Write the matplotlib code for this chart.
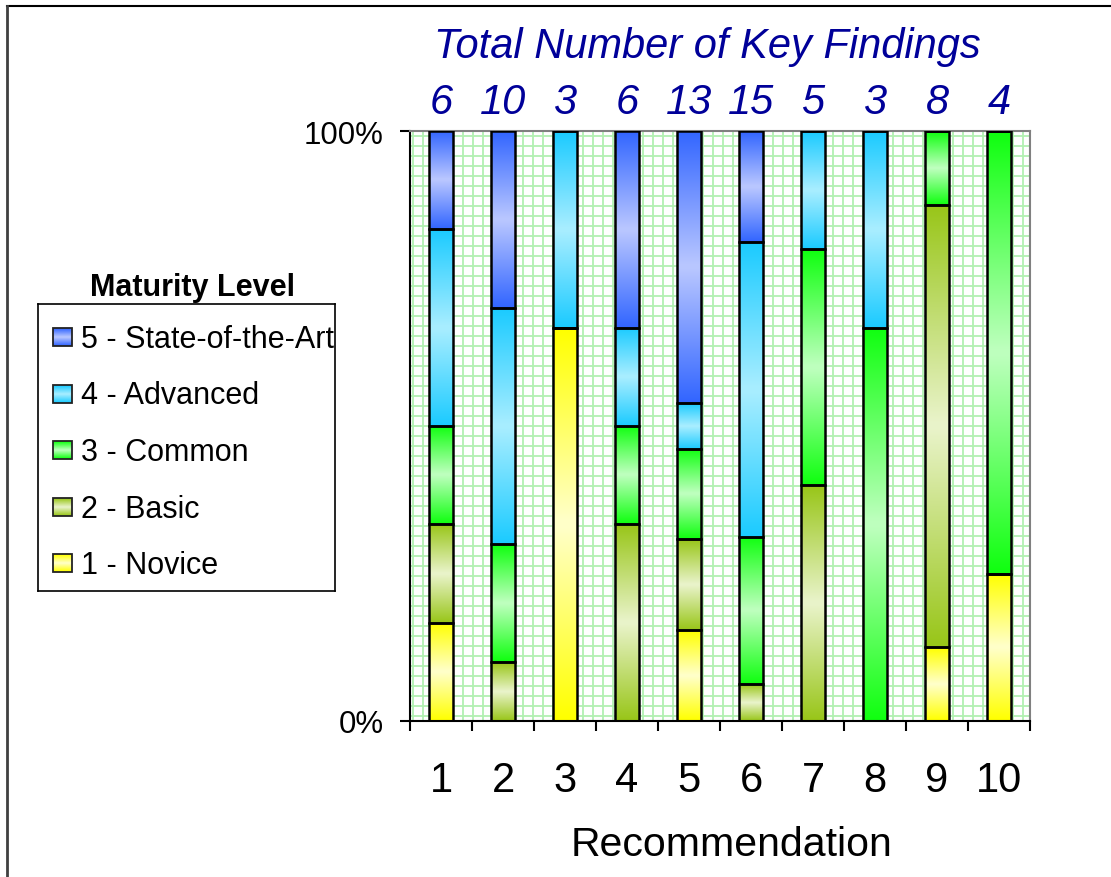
import numpy as np
import matplotlib.pyplot as plt
from matplotlib.colors import to_rgb
from matplotlib.lines import Line2D
from matplotlib.patches import Rectangle

plt.rcParams['font.family'] = ['Liberation Sans', 'DejaVu Sans']

recs = ['1', '2', '3', '4', '5', '6', '7', '8', '9', '10']
key_findings = [6, 10, 3, 6, 13, 15, 5, 3, 8, 4]

# findings per maturity level for each recommendation
novice = [1, 0, 2, 0, 2, 0, 0, 0, 1, 1]
basic = [1, 1, 0, 2, 2, 1, 2, 0, 6, 0]
common = [1, 2, 0, 1, 2, 4, 2, 2, 1, 3]
advanced = [2, 4, 1, 1, 1, 8, 1, 1, 0, 0]
state = [1, 3, 0, 2, 6, 3, 0, 0, 0, 0]

levels = ['1 - Novice', '2 - Basic', '3 - Common', '4 - Advanced', '5 - State-of-the-Art']
edge_cols = ['#ffff00', '#99c61a', '#11ff11', '#1ccbff', '#3366ff']
mid_cols = ['#ffffcc', '#eaf4cc', '#c0ffc0', '#aaeeff', '#bbc8ff']
navy = '#000099'


def shade(edge, mid, n=64):
    # reflected gradient: strong colour at the ends, pale in the middle
    t = np.abs(np.linspace(-1, 1, n))[:, None]
    e = np.array(to_rgb(edge))
    m = np.array(to_rgb(mid))
    return (m + (e - m) * t)[:, None, :]


fig = plt.figure(figsize=(11.11, 8.78), dpi=100)
ax = fig.add_axes([410 / 1111, 156 / 878, 620 / 1111, 590 / 878])

counts = np.array([novice, basic, common, advanced, state], float)
pct = counts / counts.sum(axis=0) * 100
x = np.arange(len(recs))
bottom = np.zeros(len(recs))
for k in range(len(levels)):
    bars = ax.bar(x, pct[k], 0.4, bottom=bottom, facecolor='none',
                  edgecolor='black', lw=1.8, zorder=3)
    img = shade(edge_cols[k], mid_cols[k])
    for b in bars:
        if b.get_height() <= 0:
            continue
        x0, y0 = b.get_x(), b.get_y()
        ax.imshow(img, extent=(x0, x0 + b.get_width(), y0, y0 + b.get_height()),
                  aspect='auto', interpolation='bilinear', zorder=2)
    bottom += pct[k]

ax.set_xlim(-0.5, 9.5)
ax.set_ylim(0, 100)

# small green grid pattern in the plot area
gx = -0.5 + (2.7 + 10 * np.arange(62)) / 62
gy = 100 - (4.7 + 10 * np.arange(59)) * 100 / 590
ax.vlines(gx, 0, 100, color='#b2f0b2', lw=1.3, zorder=0.5)
ax.hlines(gy, -0.5, 9.5, color='#b2f0b2', lw=1.3, zorder=0.5)

for s in ['left', 'bottom']:
    ax.spines[s].set_color('black')
    ax.spines[s].set_linewidth(1.5)
for s in ['top', 'right']:
    ax.spines[s].set_color('#808080')
    ax.spines[s].set_linewidth(1.5)

ax.set_yticks([0, 100], ['0%', '100%'])
ax.tick_params(axis='y', length=7, width=1.5, pad=12, labelsize=22.5)
ax.set_xticks(x, recs)
ax.set_xticks(np.arange(-0.5, 10), minor=True)
ax.tick_params(axis='x', which='major', length=0, pad=28, labelsize=30)
ax.tick_params(axis='x', which='minor', length=7, width=1.5)
ax.set_xlabel('Recommendation', fontsize=29.5)
ax.xaxis.set_label_coords(0.519, -0.176)

# totals above each bar
fig.text(707 / 1111, (878 - 47) / 878, 'Total Number of Key Findings',
         style='italic', fontsize=30, color=navy, ha='center', va='center')
for xi, n in zip(x, key_findings):
    ax.text(xi, 1.049, str(n), transform=ax.get_xaxis_transform(),
            style='italic', fontsize=30, color=navy, ha='center', va='center')

# legend box (text runs past the frame and is clipped)
lax = fig.add_axes([38 / 1111, (878 - 592) / 878, 297 / 1111, 287 / 878])
lax.set_xticks([])
lax.set_yticks([])
for s in lax.spines.values():
    s.set_linewidth(1.2)
for i, k in enumerate(range(len(levels) - 1, -1, -1)):
    yc = 33 + 56.5 * i
    lax.imshow(shade(edge_cols[k], mid_cols[k], 16), extent=(15, 34, yc + 9, yc - 9),
               aspect='auto', interpolation='bilinear', zorder=2)
    lax.add_patch(Rectangle((15, yc - 9), 19, 18, fill=False, ec='#222222', lw=1.3, zorder=3))
    lax.text(43, yc + 2, levels[k], fontsize=22, va='center', ha='left', clip_on=True)
lax.set_xlim(0, 297)
lax.set_ylim(287, 0)

fig.text(192 / 1111, (878 - 288) / 878, 'Maturity Level', fontsize=22,
         fontweight='bold', ha='center', va='center')

# outer border, top and left edges
fig.add_artist(Line2D([7 / 1111, 1], [871 / 878, 871 / 878], transform=fig.transFigure,
                      color='black', lw=1.5))
fig.add_artist(Line2D([7 / 1111, 7 / 1111], [0, 871 / 878], transform=fig.transFigure,
                      color='#404040', lw=2))

fig.savefig('out.png', dpi=100)
